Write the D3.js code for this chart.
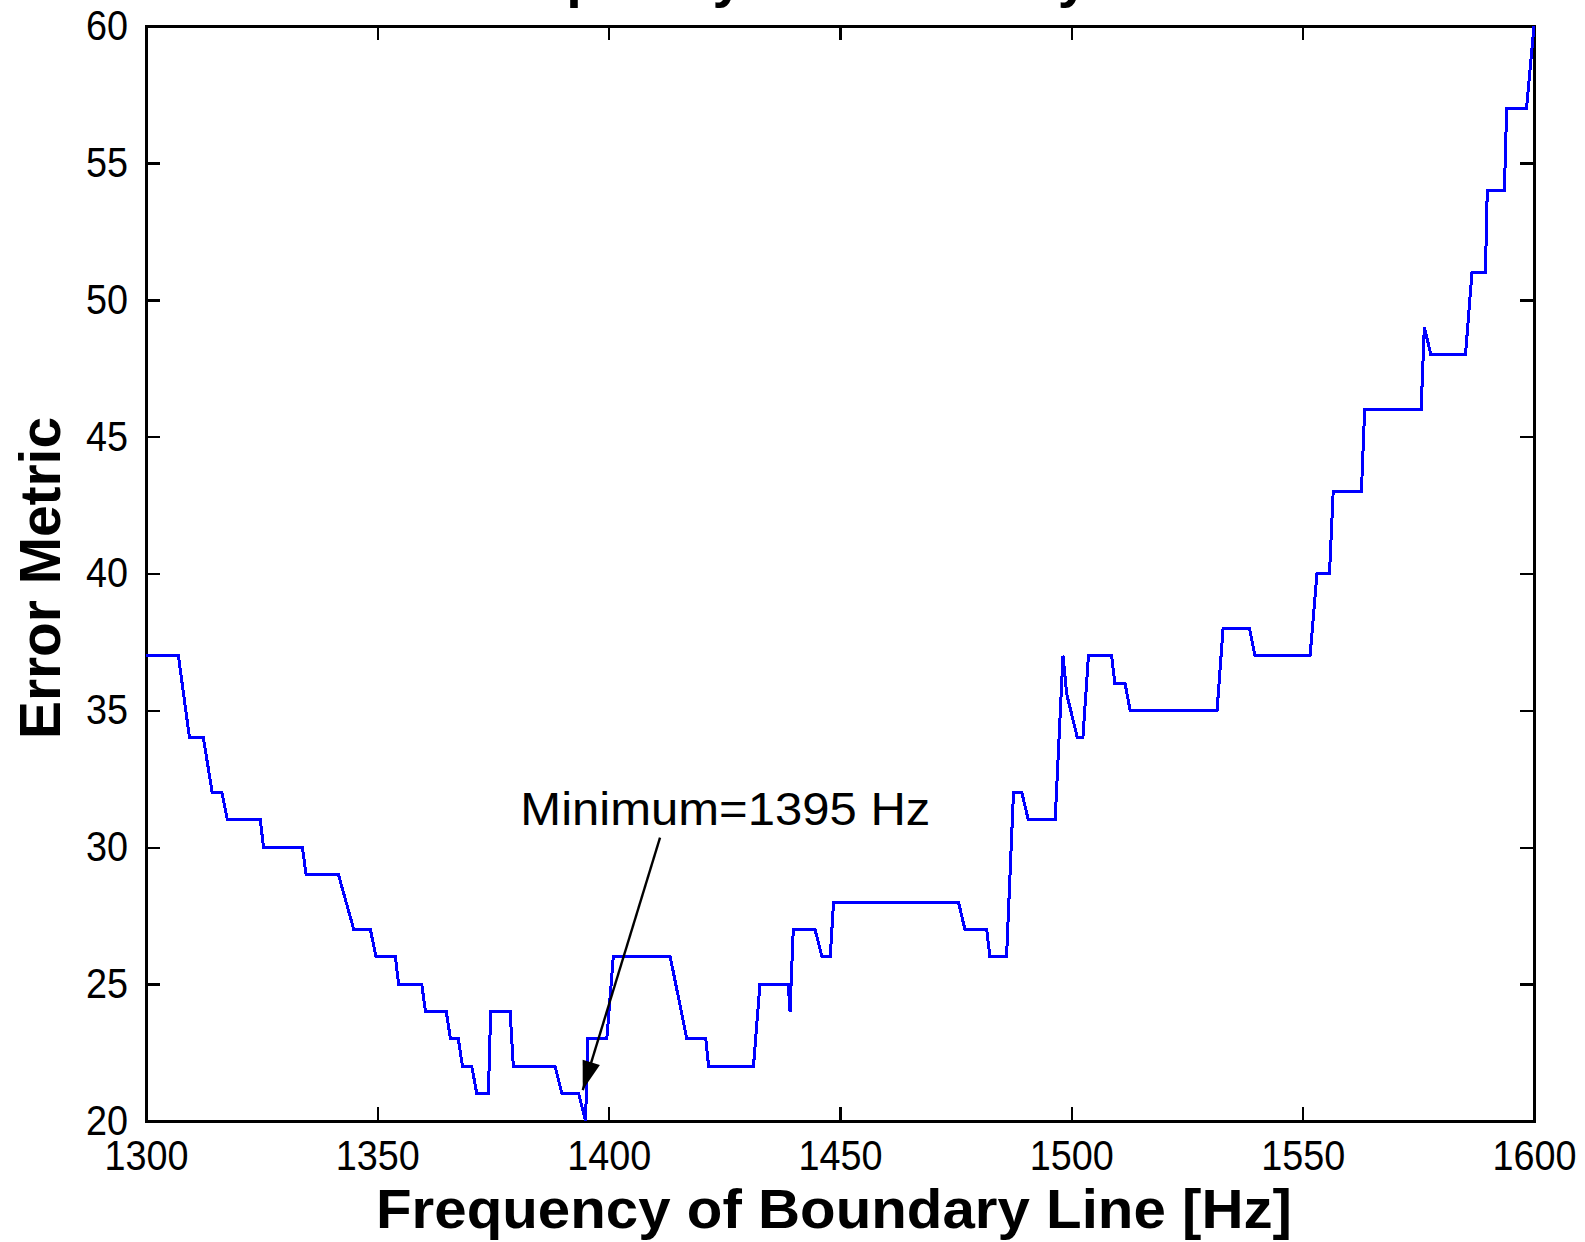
<!DOCTYPE html>
<html>
<head>
<meta charset="utf-8">
<script src="https://cdn.jsdelivr.net/npm/d3@7"></script>
<style>
  html, body { margin: 0; padding: 0; background: #fff; }
  svg { display: block; }
</style>
</head>
<body>
<svg id="chart" width="1585" height="1242"></svg>
<script>
// Error metric as a function of the boundary-line frequency (vertices of the trace)
const freqHz = [
  1300, 1307, 1309.4, 1312.4, 1314.3, 1316.4, 1317.6, 1324.7, 1325.4, 1333.8,
  1334.6, 1341.6, 1344.9, 1348.5, 1349.7, 1353.9, 1354.6, 1359.6, 1360.4, 1364.9,
  1365.8, 1367.5, 1368.4, 1370.4, 1371.5, 1374.0, 1374.5, 1378.7, 1379.4, 1388.4,
  1389.9, 1393.5, 1395, 1395.5, 1399.6, 1401.0, 1413.3, 1416.9, 1421.0, 1421.6,
  1431.3, 1432.7, 1438.8, 1439.2, 1439.9, 1444.6, 1446.1, 1447.9, 1448.6, 1475.6,
  1477.0, 1481.7, 1482.4, 1486.0, 1487.5, 1489.3, 1490.7, 1496.5, 1498.2, 1499.0,
  1501.3, 1502.5, 1503.7, 1508.7, 1509.4, 1511.6, 1512.7, 1531.5, 1532.8, 1538.5,
  1539.7, 1551.6, 1553.1, 1555.8, 1556.6, 1562.7, 1563.4, 1575.6, 1576.3, 1577.7,
  1585.2, 1586.6, 1589.5, 1589.9, 1593.6, 1594.1, 1598.4, 1600
];
const errorMetric = [
  37, 37, 34, 34, 32, 32, 31, 31, 30, 30,
  29, 29, 27, 27, 26, 26, 25, 25, 24, 24,
  23, 23, 22, 22, 21, 21, 24, 24, 22, 22,
  21, 21, 20, 23, 23, 26, 26, 23, 23, 22,
  22, 25, 25, 24, 27, 27, 26, 26, 28, 28,
  27, 27, 26, 26, 32, 32, 31, 31, 37, 35.6,
  34, 34, 37, 37, 36, 36, 35, 35, 38, 38,
  37, 37, 40, 40, 43, 43, 46, 46, 49, 48,
  48, 51, 51, 54, 54, 57, 57, 60
];

// Axis ticks
const xTicks = [1300, 1350, 1400, 1450, 1500, 1550, 1600];
const yTicks = [20, 25, 30, 35, 40, 45, 50, 55, 60];

// Text
const titleText = "Frequency of Boundary Line";
const xLabelText = "Frequency of Boundary Line [Hz]";
const yLabelText = "Error Metric";
const minFreq = 1395;
const noteText = "Minimum=" + minFreq + " Hz";

const svg = d3.select("#chart");
const W = 1585, H = 1242;
const plot = { left: 146, right: 1534, top: 26, bottom: 1121 };

const x = d3.scaleLinear().domain([1300, 1600]).range([plot.left, plot.right]);
const y = d3.scaleLinear().domain([20, 60]).range([plot.bottom, plot.top]);

svg.append("rect").attr("width", W).attr("height", H).attr("fill", "#fff");

const FONT = "'Liberation Sans', Arial, Helvetica, sans-serif";
const tickLen = 14;

function styleAxis(g, showText) {
  g.select(".domain").remove();
  g.selectAll(".tick line")
    .attr("stroke", "#000")
    .attr("stroke-width", 2.5)
    .attr("shape-rendering", "crispEdges");
  g.selectAll(".tick text")
    .attr("fill", "#000")
    .style("font-family", FONT)
    .style("font-size", "42px")
    // narrow digits, about 21px per character
    .attr("textLength", function () { return this.textContent.length * 21; })
    .attr("lengthAdjust", "spacingAndGlyphs");
  if (!showText) g.selectAll(".tick text").remove();
}

// Bottom axis with labels, ticks pointing inward
svg.append("g")
  .attr("transform", `translate(0,${plot.bottom})`)
  .call(d3.axisBottom(x).tickValues(xTicks).tickSizeInner(-tickLen).tickSizeOuter(0).tickPadding(19).tickFormat(d3.format("d")))
  .call(g => styleAxis(g, true));

// Left axis with labels
svg.append("g")
  .attr("transform", `translate(${plot.left},0)`)
  .call(d3.axisLeft(y).tickValues(yTicks).tickSizeInner(-tickLen).tickSizeOuter(0).tickPadding(18).tickFormat(d3.format("d")))
  .call(g => styleAxis(g, true));

// Mirrored ticks on top and right
svg.append("g")
  .attr("transform", `translate(0,${plot.top})`)
  .call(d3.axisTop(x).tickValues(xTicks).tickSizeInner(-tickLen).tickSizeOuter(0))
  .call(g => styleAxis(g, false));

svg.append("g")
  .attr("transform", `translate(${plot.right},0)`)
  .call(d3.axisRight(y).tickValues(yTicks).tickSizeInner(-tickLen).tickSizeOuter(0))
  .call(g => styleAxis(g, false));

// Axes box
svg.append("rect")
  .attr("x", plot.left).attr("y", plot.top)
  .attr("width", plot.right - plot.left).attr("height", plot.bottom - plot.top)
  .attr("fill", "none").attr("stroke", "#000").attr("stroke-width", 3)
  .attr("shape-rendering", "crispEdges");

// Error metric trace
const pts = freqHz.map((f, i) => [f, errorMetric[i]]);
svg.append("path")
  .datum(pts)
  .attr("d", d3.line().x(d => x(d[0])).y(d => y(d[1])))
  .attr("fill", "none")
  .attr("stroke", "#0000ff")
  .attr("stroke-width", 3)
  .attr("stroke-linejoin", "miter")
  .attr("shape-rendering", "crispEdges");

// Annotation: arrow pointing at the minimum
const tail = [x(1411.1), y(30.35)];
const tip = [x(1394.4), y(21.13)];
svg.append("line")
  .attr("x1", tail[0]).attr("y1", tail[1])
  .attr("x2", tip[0]).attr("y2", tip[1])
  .attr("stroke", "#000").attr("stroke-width", 2.4);
{
  const dx = tip[0] - tail[0], dy = tip[1] - tail[1];
  const len = Math.hypot(dx, dy);
  const ux = dx / len, uy = dy / len;
  const headLen = 29, halfW = 9;
  const bx = tip[0] - ux * headLen, by = tip[1] - uy * headLen;
  const px = -uy * halfW, py = ux * halfW;
  svg.append("path")
    .attr("d", `M${tip[0]},${tip[1]}L${bx + px},${by + py}L${bx - px},${by - py}Z`)
    .attr("fill", "#000");
}

svg.append("text")
  .attr("x", x(1380.9)).attr("y", y(30.83))
  .attr("textLength", 410).attr("lengthAdjust", "spacingAndGlyphs")
  .style("font-family", FONT).style("font-size", "46px")
  .attr("fill", "#000")
  .text(noteText);

// Axis labels
svg.append("text")
  .attr("x", (plot.left + plot.right) / 2 - 6).attr("y", 1228)
  .attr("text-anchor", "middle")
  .attr("textLength", 916).attr("lengthAdjust", "spacingAndGlyphs")
  .style("font-family", FONT).style("font-size", "56px").style("font-weight", "bold")
  .attr("fill", "#000")
  .text(xLabelText);

svg.append("text")
  .attr("transform", `translate(60,578) rotate(-90)`)
  .attr("text-anchor", "middle")
  .attr("textLength", 322).attr("lengthAdjust", "spacingAndGlyphs")
  .style("font-family", FONT).style("font-size", "58px").style("font-weight", "bold")
  .attr("fill", "#000")
  .text(yLabelText);

// Title (sits above the visible page edge)
svg.append("text")
  .attr("x", (plot.left + plot.right) / 2).attr("y", -4)
  .attr("text-anchor", "middle")
  .style("font-family", FONT).style("font-size", "56px").style("font-weight", "bold")
  .attr("fill", "#000")
  .text(titleText);
</script>
</body>
</html>
